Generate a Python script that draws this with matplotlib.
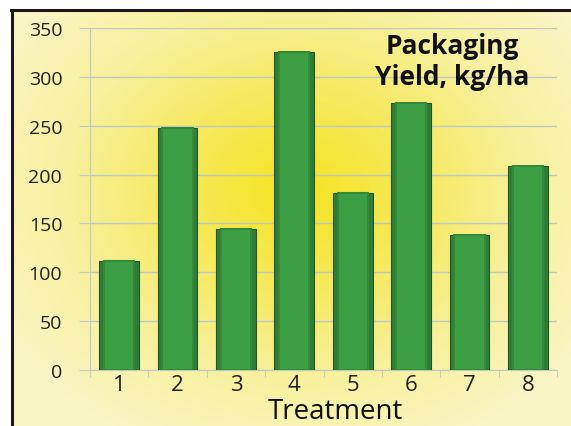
#!/usr/bin/env python3
"""Packaging yield by treatment, bar chart on a yellow radial backdrop."""
import numpy as np
import matplotlib
matplotlib.use("Agg")
import matplotlib.pyplot as plt
from matplotlib.colors import LinearSegmentedColormap
from matplotlib.lines import Line2D

treatments = ["1", "2", "3", "4", "5", "6", "7", "8"]
yield_kg_ha = [112, 248, 144, 325, 181, 273, 138, 209]
y_ticks = [0, 50, 100, 150, 200, 250, 300, 350]

FONT = ["Open Sans", "DejaVu Sans"]
W, H = 571, 427

fig = plt.figure(figsize=(W / 100, H / 100), dpi=100)

# backdrop: radial yellow gradient inside a frame
bg = fig.add_axes([0, 0, 1, 1], zorder=0)
xx, yy = np.meshgrid(np.linspace(0, 1, W), np.linspace(0, 1, H))
r = np.sqrt(((xx - 0.52) / 0.60) ** 2 + ((yy - 0.45) / 0.65) ** 2)
cmap = LinearSegmentedColormap.from_list(
    "yel", ["#f5e41e", "#f6e95a", "#f8f09c", "#faf5c4"])
bg.imshow(np.clip(r, 0, 1), cmap=cmap, extent=[0, 1, 0, 1],
          origin="upper", aspect="auto")
bg.set_xlim(0, 1)
bg.set_ylim(0, 1)
bg.axis("off")
# white margin above and left of the frame
bg.fill_between([0, 1], 1 - 10 / H, 1, color="white", zorder=2)
bg.fill_betweenx([0, 1], 0, 11 / W, color="white", zorder=2)
bg.add_line(Line2D([11 / W, 1], [1 - 11 / H] * 2, color="#1a1a1a",
                   lw=2.2, zorder=3))
bg.add_line(Line2D([11.5 / W] * 2, [0, 1 - 11 / H], color="#1a1a1a",
                   lw=2.2, zorder=3))

ax = fig.add_axes([90 / W, 1 - 371 / H, 467 / W, 342 / H], zorder=1)
ax.patch.set_alpha(0)
x = np.arange(len(treatments))

ax.bar(x, yield_kg_ha, width=0.68, color="#2e7d32", edgecolor="#1f5a22",
       linewidth=0.8, zorder=3)
ax.bar(x, yield_kg_ha, width=0.52, color="#3d9f44", edgecolor="#348a3a",
       linewidth=1.5, zorder=4)

grid_c = "#bccac2"
ax.set_xlim(-0.5, len(treatments) - 0.5)
ax.set_ylim(0, 350)
ax.set_yticks(y_ticks)
ax.set_yticklabels([str(t) for t in y_ticks], fontsize=14, family=FONT,
                   color="#222")
ax.set_xticks(x)
ax.set_xticklabels(treatments, fontsize=16, family=FONT, color="#222")
ax.tick_params(axis="x", length=0, pad=3)
ax.tick_params(axis="y", length=8, color=grid_c, pad=12)
ax.set_xticks(np.arange(-0.5, len(treatments), 1), minor=True)
ax.tick_params(axis="x", which="minor", length=5, color=grid_c)

ax.grid(axis="y", color=grid_c, linewidth=1.0, zorder=1)
for side in ["top", "right"]:
    ax.spines[side].set_visible(False)
ax.spines["left"].set_color(grid_c)
ax.spines["bottom"].set_color(grid_c)

fig.text(335 / W, 1 - 419 / H, "Treatment", fontsize=20, family=FONT,
         color="#111", ha="center", va="baseline")

fig.text(452 / W, 1 - 62 / H, "Packaging\nYield, kg/ha", fontsize=19,
         fontweight="bold", family=FONT, ha="center", va="center",
         linespacing=1.15, color="#111")

fig.savefig("out.png", dpi=100)
